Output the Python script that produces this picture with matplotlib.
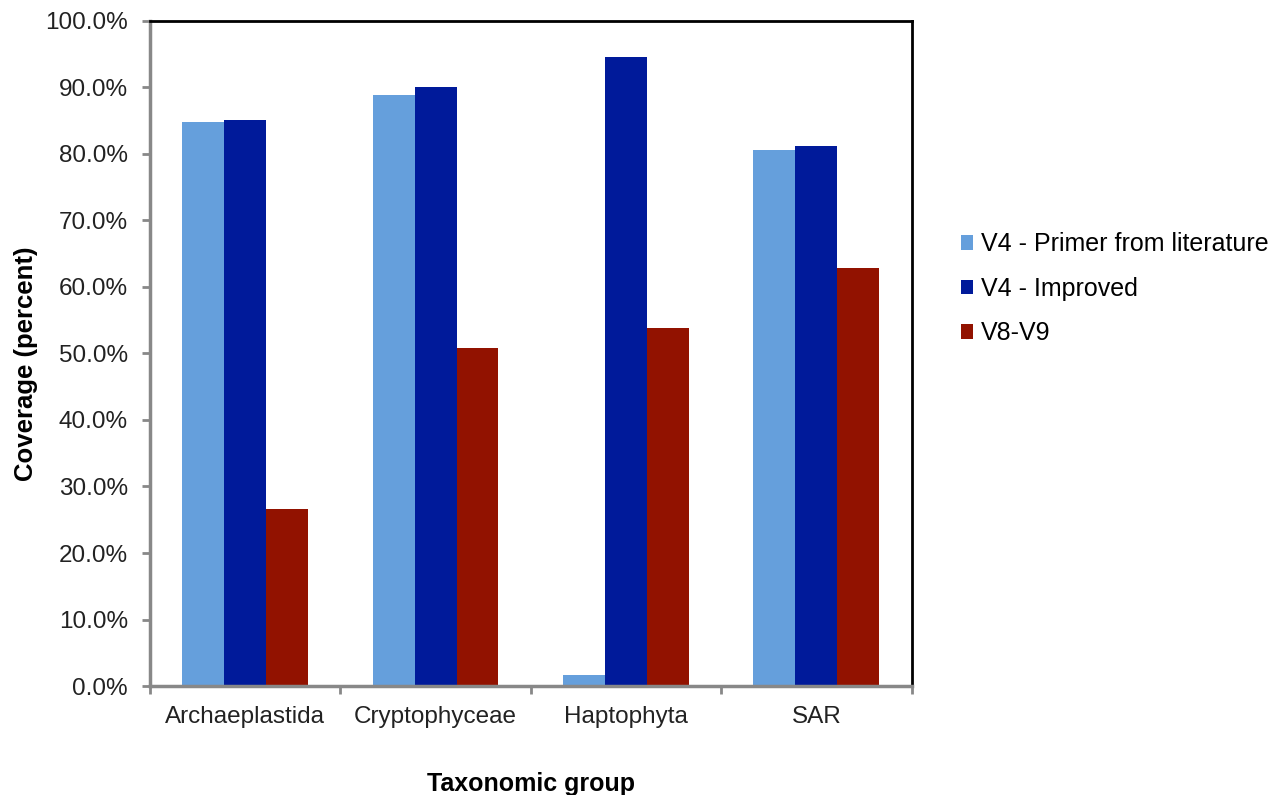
import matplotlib.pyplot as plt
import numpy as np
from matplotlib.ticker import FuncFormatter, FixedLocator

plt.rcParams["font.family"] = ["Liberation Sans", "DejaVu Sans"]

groups = ["Archaeplastida", "Cryptophyceae", "Haptophyta", "SAR"]
series = ["V4 - Primer from literature", "V4 - Improved", "V8-V9"]
v4_literature = [84.7, 88.9, 1.6, 80.5]
v4_improved = [85.1, 90.1, 94.6, 81.1]
v8_v9 = [26.6, 50.8, 53.8, 62.9]
colors = ["#659fdc", "#001a9a", "#921200"]

fig = plt.figure(figsize=(12.82, 7.95), dpi=100)
ax = fig.add_axes([0.117, 0.137, 0.594, 0.837])

x = np.arange(len(groups))
width = 0.22
for i, (vals, name) in enumerate(zip([v4_literature, v4_improved, v8_v9], series)):
    ax.bar(x + (i - 1) * width, vals, width, color=colors[i], label=name,
           edgecolor="none")

ax.set_xlim(-0.5, len(groups) - 0.5)
ax.set_ylim(0, 100)
ax.set_yticks(np.arange(0, 101, 10))
ax.yaxis.set_major_formatter(FuncFormatter(lambda v, _: f"{v:.1f}%"))
ax.set_xticks(x)
ax.set_xticklabels(groups)
ax.tick_params(axis="x", length=0, labelsize=17.5, pad=14, colors="#222222")
ax.xaxis.set_minor_locator(FixedLocator(np.arange(-0.5, len(groups), 1.0)))
ax.tick_params(axis="x", which="minor", length=6, width=2, color="#888888")
ax.tick_params(axis="y", length=6, width=2, color="#888888", labelsize=17.5,
               labelcolor="#222222", pad=10)

for side in ["left", "bottom"]:
    ax.spines[side].set_color("#888888")
    ax.spines[side].set_linewidth(2.5)
for side in ["top", "right"]:
    ax.spines[side].set_color("black")
    ax.spines[side].set_linewidth(2)

ax.set_ylabel("Coverage (percent)", fontsize=18.5, fontweight="bold")
ax.yaxis.set_label_coords(-0.147, 0.484)
ax.set_xlabel("Taxonomic group", fontsize=18, fontweight="bold", labelpad=32)

ax.legend(loc="center left", bbox_to_anchor=(1.035, 0.597), frameon=False,
          fontsize=18, handlelength=0.5, handleheight=0.5, handletextpad=0.3,
          labelspacing=0.82)

plt.savefig("out.png", dpi=100)
